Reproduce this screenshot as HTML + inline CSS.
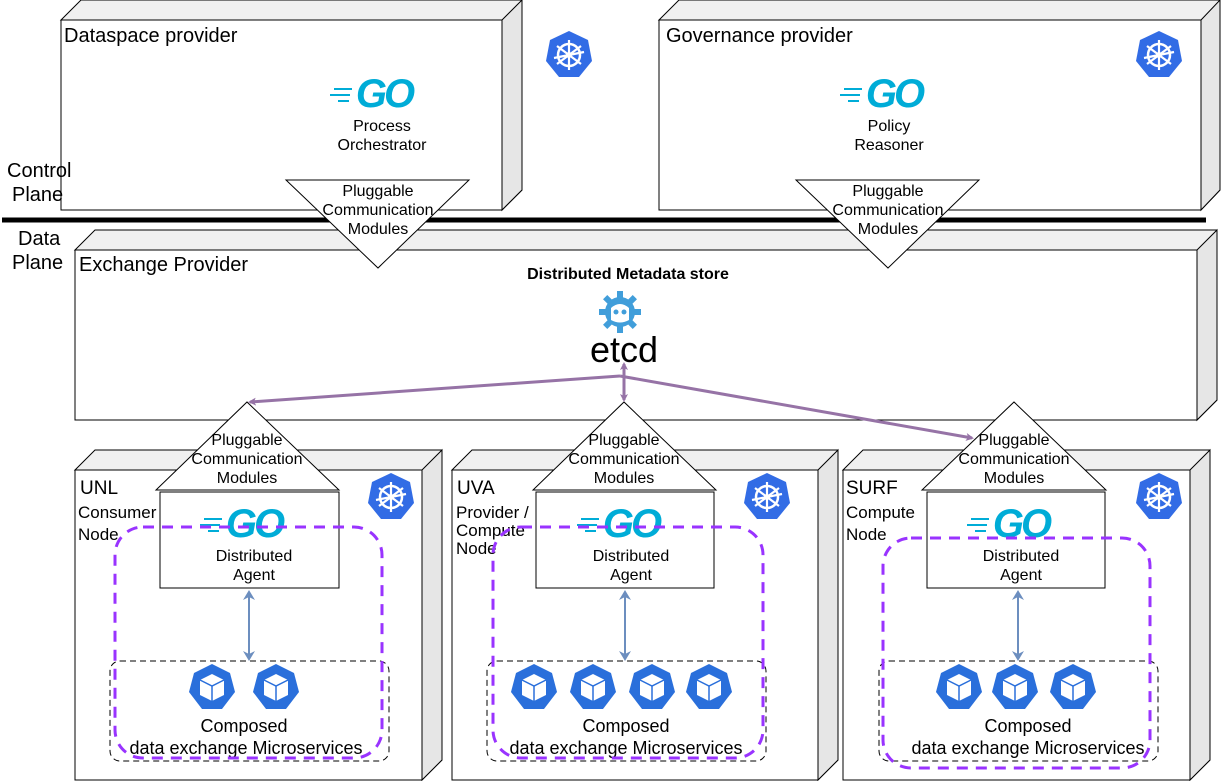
<!DOCTYPE html>
<html><head><meta charset="utf-8"><style>
html,body{margin:0;padding:0;background:#fff;}
svg{display:block;}
text{font-family:"Liberation Sans",Arial,Helvetica,sans-serif;}
</style></head><body>
<svg width="1221" height="781" viewBox="0 0 1221 781" xmlns="http://www.w3.org/2000/svg">
<defs>
<marker id="pa" markerWidth="8" markerHeight="8" refX="6" refY="4" orient="auto" markerUnits="userSpaceOnUse"><path d="M0,0 L8,4 L0,8 L2,4 z" fill="#9673a6"/></marker>
<marker id="ba" markerWidth="10" markerHeight="12" refX="8" refY="6" orient="auto" markerUnits="userSpaceOnUse"><path d="M0,0 L10,6 L0,12 L3,6 z" fill="#6c8ebf"/></marker>
<g id="k8s">
<polygon points="0,-24 19,-15 23,6 10,22 -10,22 -23,6 -19,-15" fill="#326ce5"/>
<circle r="11" fill="none" stroke="#fff" stroke-width="2.5"/>
<circle r="3" fill="#fff"/>
<g stroke="#fff" stroke-width="2.2">
<line x1="0" y1="-15" x2="0" y2="15"/><line x1="-12" y1="-9" x2="12" y2="9"/><line x1="12" y1="-9" x2="-12" y2="9"/><line x1="-15" y1="3" x2="15" y2="-3"/>
</g></g>
<g id="cube">
<polygon points="0,-23 18,-14 23,5 10,22 -10,22 -23,5 -18,-14" fill="#2a6fdb"/>
<polygon points="0,-13 12,-7 12,8 0,14 -12,8 -12,-7" fill="#fff"/>
<polyline points="-12,-7 0,-1 12,-7" fill="none" stroke="#2a6fdb" stroke-width="1.5"/>
<line x1="0" y1="-1" x2="0" y2="14" stroke="#2a6fdb" stroke-width="1.5"/>
</g>
<g id="go">
<text x="4" y="0" font-size="40" font-weight="bold" font-style="italic" fill="#00acd7" text-anchor="middle" letter-spacing="-3">GO</text>
<g stroke="#00acd7" stroke-width="2"><line x1="-46" y1="-18" x2="-28" y2="-18"/><line x1="-50" y1="-12" x2="-30" y2="-12"/><line x1="-42" y1="-6" x2="-31" y2="-6"/></g>
</g>
</defs>

<!-- Dataspace provider -->
<polygon points="61,20 81,0 522,0 522,190 502,210 502,20" fill="#f0f0f0" stroke="#000"/>
<polygon points="502,20 522,0 522,190 502,210" fill="#e6e6e6" stroke="#000"/>
<rect x="61" y="20" width="441" height="190" fill="#fff" stroke="#000"/>
<text x="64" y="42" font-size="20">Dataspace provider</text>
<use href="#k8s" x="569" y="55"/>
<use href="#go" x="380" y="107"/>
<text x="382" y="131" font-size="16" text-anchor="middle">Process</text>
<text x="382" y="150" font-size="16" text-anchor="middle">Orchestrator</text>

<!-- Governance provider -->
<polygon points="659,20 679,0 1220,0 1220,190 1201,210 1201,20" fill="#f0f0f0" stroke="#000"/>
<polygon points="1201,20 1220,0 1220,190 1201,210" fill="#e6e6e6" stroke="#000"/>
<rect x="659" y="20" width="542" height="190" fill="#fff" stroke="#000"/>
<text x="666" y="42" font-size="20">Governance provider</text>
<use href="#k8s" x="1159" y="55"/>
<use href="#go" x="890" y="107"/>
<text x="889" y="131" font-size="16" text-anchor="middle">Policy</text>
<text x="889" y="150" font-size="16" text-anchor="middle">Reasoner</text>

<text x="7" y="177" font-size="20">Control</text>
<text x="12" y="201" font-size="20">Plane</text>
<text x="18" y="245" font-size="20">Data</text>
<text x="12" y="269" font-size="20">Plane</text>

<!-- Exchange provider -->
<polygon points="75,250 95,230 1217,230 1217,400 1197,420 1197,250" fill="#f0f0f0" stroke="#000"/>
<polygon points="1197,250 1217,230 1217,400 1197,420" fill="#e6e6e6" stroke="#000"/>
<rect x="75" y="250" width="1122" height="170" fill="#fff" stroke="#000"/>
<line x1="2" y1="220" x2="1206" y2="220" stroke="#000" stroke-width="5"/>
<text x="79" y="271" font-size="20">Exchange Provider</text>
<text x="628" y="279" font-size="16" font-weight="bold" text-anchor="middle">Distributed Metadata store</text>
<g transform="translate(620,312)">
<circle r="15" fill="#419eda"/>
<g fill="#419eda"><rect x="-3" y="-21" width="6" height="8"/><rect x="-3" y="13" width="6" height="8"/><rect x="-21" y="-3" width="8" height="6"/><rect x="13" y="-3" width="8" height="6"/>
<rect x="-3" y="-21" width="6" height="8" transform="rotate(45)"/><rect x="-3" y="-21" width="6" height="8" transform="rotate(-45)"/><rect x="-3" y="-21" width="6" height="8" transform="rotate(135)"/><rect x="-3" y="-21" width="6" height="8" transform="rotate(-135)"/></g>
<path d="M-9,-4 Q0,-12 9,-4 L9,8 Q0,13 -9,8 z" fill="#fff"/>
<circle cx="-4" cy="0" r="2.5" fill="#419eda"/><circle cx="4" cy="0" r="2.5" fill="#419eda"/>
</g>
<text x="624" y="362" font-size="36" text-anchor="middle">etcd</text>

<!-- Down triangles -->
<polygon points="286,180 469,180 378,268" fill="#fff" stroke="#000"/>
<text x="378" y="196" font-size="16" text-anchor="middle">Pluggable</text>
<text x="378" y="215" font-size="16" text-anchor="middle">Communication</text>
<text x="378" y="234" font-size="16" text-anchor="middle">Modules</text>
<polygon points="796,180 979,180 888,268" fill="#fff" stroke="#000"/>
<text x="888" y="196" font-size="16" text-anchor="middle">Pluggable</text>
<text x="888" y="215" font-size="16" text-anchor="middle">Communication</text>
<text x="888" y="234" font-size="16" text-anchor="middle">Modules</text>

<!-- Node boxes -->
<g>
<polygon points="75,470 95,450 442,450 442,760 422,780 422,470" fill="#f0f0f0" stroke="#000"/>
<polygon points="422,470 442,450 442,760 422,780" fill="#e6e6e6" stroke="#000"/>
<rect x="75" y="470" width="347" height="310" fill="#fff" stroke="#000"/>
<polygon points="452,470 472,450 838,450 838,760 818,780 818,470" fill="#f0f0f0" stroke="#000"/>
<polygon points="818,470 838,450 838,760 818,780" fill="#e6e6e6" stroke="#000"/>
<rect x="452" y="470" width="366" height="310" fill="#fff" stroke="#000"/>
<polygon points="843,470 863,450 1210,450 1210,760 1190,780 1190,470" fill="#f0f0f0" stroke="#000"/>
<polygon points="1190,470 1210,450 1210,760 1190,780" fill="#e6e6e6" stroke="#000"/>
<rect x="843" y="470" width="347" height="310" fill="#fff" stroke="#000"/>
</g>
<use href="#k8s" x="391" y="497"/>
<use href="#k8s" x="767" y="497"/>
<use href="#k8s" x="1159" y="497"/>
<text x="80" y="494" font-size="19">UNL</text>
<text x="78" y="518" font-size="17">Consumer</text>
<text x="78" y="540" font-size="17">Node</text>
<text x="457" y="494" font-size="19">UVA</text>
<text x="456" y="518" font-size="17">Provider /</text>
<text x="456" y="536" font-size="17">Compute</text>
<text x="456" y="554" font-size="17">Node</text>
<text x="846" y="494" font-size="19">SURF</text>
<text x="846" y="518" font-size="17">Compute</text>
<text x="846" y="540" font-size="17">Node</text>

<!-- Up triangles + agent boxes -->
<g font-size="16" text-anchor="middle">
<polygon points="156,490 339,490 247,402" fill="#fff" stroke="#000"/>
<text x="247" y="445">Pluggable</text><text x="247" y="464">Communication</text><text x="247" y="483">Modules</text>
<rect x="160" y="492" width="179" height="96" fill="#fff" stroke="#000"/>
<use href="#go" x="250" y="537"/>
<text x="254" y="561">Distributed</text><text x="254" y="580">Agent</text>

<polygon points="533,490 716,490 624,402" fill="#fff" stroke="#000"/>
<text x="624" y="445">Pluggable</text><text x="624" y="464">Communication</text><text x="624" y="483">Modules</text>
<rect x="536" y="492" width="178" height="96" fill="#fff" stroke="#000"/>
<use href="#go" x="627" y="537"/>
<text x="631" y="561">Distributed</text><text x="631" y="580">Agent</text>

<polygon points="922,490 1106,490 1014,402" fill="#fff" stroke="#000"/>
<text x="1014" y="445">Pluggable</text><text x="1014" y="464">Communication</text><text x="1014" y="483">Modules</text>
<rect x="927" y="492" width="178" height="96" fill="#fff" stroke="#000"/>
<use href="#go" x="1017" y="537"/>
<text x="1021" y="561">Distributed</text><text x="1021" y="580">Agent</text>
</g>

<!-- Microservice dashed boxes -->
<rect x="110" y="661" width="279" height="100" rx="10" fill="none" stroke="#000" stroke-dasharray="6,4"/>
<rect x="487" y="661" width="279" height="100" rx="10" fill="none" stroke="#000" stroke-dasharray="6,4"/>
<rect x="879" y="661" width="279" height="100" rx="10" fill="none" stroke="#000" stroke-dasharray="6,4"/>
<use href="#cube" x="212" y="687"/><use href="#cube" x="276" y="687"/>
<use href="#cube" x="534" y="687"/><use href="#cube" x="593" y="687"/><use href="#cube" x="652" y="687"/><use href="#cube" x="709" y="687"/>
<use href="#cube" x="959" y="687"/><use href="#cube" x="1015" y="687"/><use href="#cube" x="1073" y="687"/>
<g font-size="18" text-anchor="middle">
<text x="244" y="732">Composed</text><text x="246" y="754">data exchange Microservices</text>
<text x="626" y="732">Composed</text><text x="626" y="754">data exchange Microservices</text>
<text x="1028" y="732">Composed</text><text x="1028" y="754">data exchange Microservices</text>
</g>

<!-- Purple dashed -->
<rect x="115" y="527" width="267" height="231" rx="28" fill="none" stroke="#9933ff" stroke-width="3" stroke-dasharray="11,8"/>
<rect x="493" y="527" width="270" height="231" rx="28" fill="none" stroke="#9933ff" stroke-width="3" stroke-dasharray="11,8"/>
<rect x="883" y="538" width="267" height="230" rx="28" fill="none" stroke="#9933ff" stroke-width="3" stroke-dasharray="11,8"/>

<!-- Blue arrows -->
<g stroke="#6c8ebf" stroke-width="2">
<line x1="249" y1="625" x2="249" y2="592" marker-end="url(#ba)"/><line x1="249" y1="625" x2="249" y2="659" marker-end="url(#ba)"/>
<line x1="625" y1="625" x2="625" y2="592" marker-end="url(#ba)"/><line x1="625" y1="625" x2="625" y2="659" marker-end="url(#ba)"/>
<line x1="1018" y1="625" x2="1018" y2="592" marker-end="url(#ba)"/><line x1="1018" y1="625" x2="1018" y2="659" marker-end="url(#ba)"/>
</g>

<!-- Purple arrows -->
<g stroke="#9673a6" stroke-width="3">
<line x1="620" y1="376" x2="250" y2="402" marker-end="url(#pa)"/>
<line x1="620" y1="376" x2="972" y2="438" marker-end="url(#pa)"/>
<line x1="624" y1="381" x2="624" y2="364" marker-end="url(#pa)"/>
<line x1="624" y1="381" x2="624" y2="400" marker-end="url(#pa)"/>
</g>
</svg>
</body></html>
